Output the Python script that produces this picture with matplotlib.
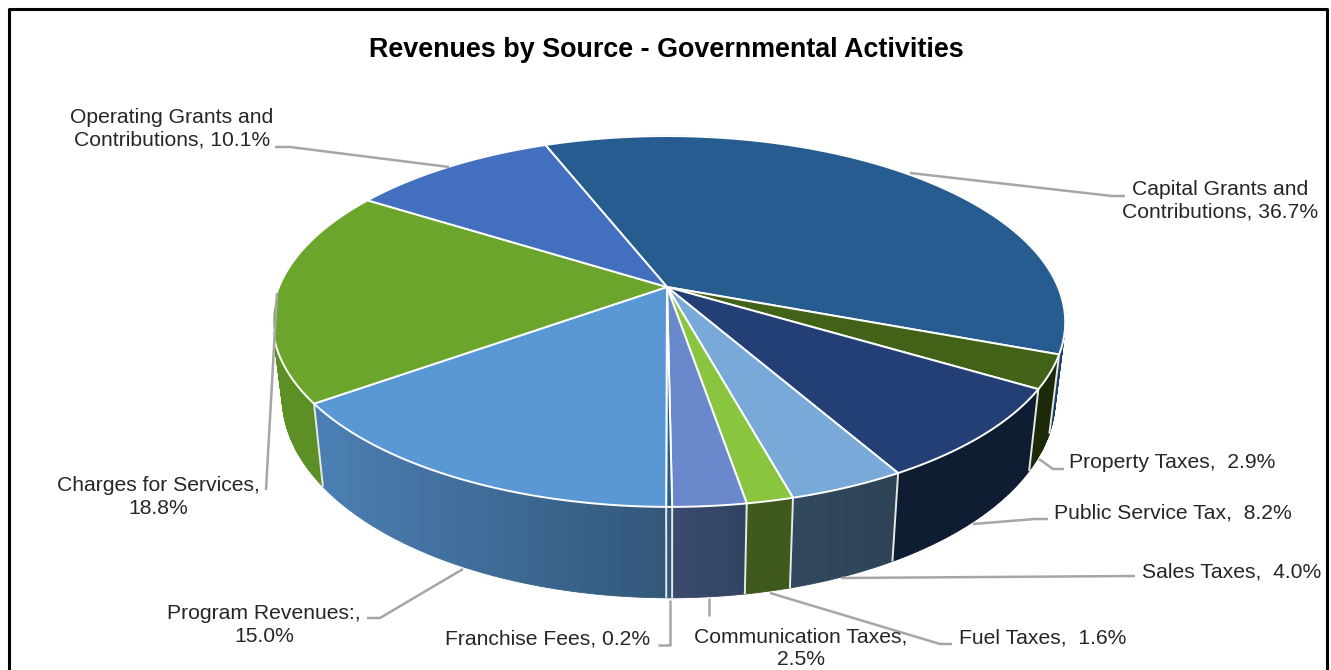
"""
Revenues by Source - Governmental Activities (3D style pie)
- circle is projected with a simple perspective so the hub sits above the ellipse center
"""
import numpy as np
import matplotlib
matplotlib.use("Agg")
import matplotlib.pyplot as plt
from matplotlib.colors import to_rgb
from matplotlib.patches import Polygon

plt.rcParams["font.family"] = ["Liberation Sans", "DejaVu Sans"]

# data, clockwise from the start angle
names = ["Capital Grants and\nContributions", "Property Taxes", "Public Service Tax", "Sales Taxes",
         "Fuel Taxes", "Communication Taxes", "Franchise Fees", "Program Revenues:",
         "Charges for Services", "Operating Grants and\nContributions"]
values = [36.7, 2.9, 8.2, 4.0, 1.6, 2.5, 0.2, 15.0, 18.8, 10.1]
seps = [", ", ",  ", ",  ", ",  ", ",  ", ",\n", ", ", ",\n", ",\n", ", "]

# styles
top_colors = ["#265c90", "#426317", "#233f75", "#78a9d8", "#8ac53f", "#6a89cc", "#265c90", "#5a98d5", "#6ca52b", "#4270bf"]
wall_left = ["#1b4068", "#1c2a08", "#0f1d33", "#33495f", "#3f5a1c", "#3b4a70", "#33587a", "#4c80b5", "#5c9024", "#2c4f86"]
wall_right = ["#1b4068", "#1c2a08", "#0f1d33", "#2e4356", "#3f5a1c", "#324462", "#33587a", "#33587a", "#5c9024", "#2c4f86"]
label_pos = [(1220, 201, "center"), (1069, 463, "left"), (1054, 513, "left"), (1142, 572, "left"),
             (959, 638, "left"), (801, 648, "center"), (445, 639, "left"), (264, 625, "center"),
             (158, 497, "center"), (172, 129, "center")]
leaders = [[(910, 173), (1112, 196), (1125, 196)], [(1039, 459), (1053, 469), (1064, 469)],
           [(973, 524), (1035, 519), (1048, 519)], [(841, 578), (1135, 576)],
           [(770, 593), (940, 644), (952, 644)], [(709, 598), (709, 616)],
           [(670, 600), (670, 645), (658, 645)], [(463, 569), (380, 618), (367, 618)],
           [(277, 293), (266, 490)], [(449, 167), (290, 147), (275, 147)]]

HUB_X, HUB_Y = 667, 287
A, B, K = 389.5, 179, 0.186  # perspective circle
DEPTH, SHRINK = 74, 0.975
START = -21.5
SKEW = 1.5  # front of the rim sits a bit right of the back


def project(deg, low=False):
    t = np.radians(deg)
    u, v = np.sin(t), np.cos(t)
    w = 1 + K * v
    x = A * u / w * (SHRINK if low else 1) + SKEW * (1 - v)
    y = -B * v / w + (DEPTH / w if low else 0)
    return HUB_X + x, HUB_Y + y


fig = plt.figure(figsize=(13.31, 6.70), dpi=100)
ax = fig.add_axes([0, 0, 1, 1])

total = sum(values)
edges = START + np.cumsum([0] + values) / total * 360

# side wall first, top covers the back part. Gradient runs left to right on screen
for i in range(len(values)):
    p = np.linspace(edges[i], edges[i + 1], max(int(edges[i + 1] - edges[i]) * 2, 3))
    xt, yt = project(p)
    xb, yb = project(p, low=True)
    xs, ys = np.r_[xt, xb[::-1]], np.r_[yt, yb[::-1]]
    c0, c1 = np.array(to_rgb(wall_left[i])), np.array(to_rgb(wall_right[i]))
    # quads underneath give the silhouette and smooth edges, seams get hidden by the image
    frac = (xb - xs.min()) / max(xs.max() - xs.min(), 1)
    for j in range(len(p) - 1):
        col = c0 + (c1 - c0) * (frac[j] + frac[j + 1]) / 2
        ax.fill([xt[j], xt[j + 1], xb[j + 1], xb[j]], [yt[j], yt[j + 1], yb[j + 1], yb[j]],
                color=col, lw=0.6, zorder=1.9)
    grad = np.linspace(c0, c1, 256)[None, :, :]
    im = ax.imshow(grad, extent=(xs.min(), xs.max(), ys.max(), ys.min()), aspect="auto",
                   interpolation="bilinear", zorder=2)
    inner = np.c_[np.r_[xt, xb[::-1]], np.r_[yt + 1, yb[::-1] - 1]]
    im.set_clip_path(Polygon(inner, transform=ax.transData))

ax.set_xlim(0, 1331)
ax.set_ylim(670, 0)
ax.axis("off")

# white lines down the wall, front side only
for e in edges:
    t = np.radians(e)
    if np.cos(t) < -0.05 or 80 < (e % 360) < 110:
        x0, y0 = project(e)
        x1, y1 = project(e, low=True)
        ax.plot([x0, x1], [y0, y1], color="#e8e8e8", lw=1.4, zorder=3, solid_capstyle="butt")

# top face
for i in range(len(values)):
    p = np.linspace(edges[i], edges[i + 1], max(int(edges[i + 1] - edges[i]) * 2, 2))
    x, y = project(p)
    ax.fill(np.r_[HUB_X, x], np.r_[HUB_Y, y], facecolor=top_colors[i], edgecolor="white", lw=1.4,
            joinstyle="round", zorder=4)

for pts in leaders:
    xs, ys = zip(*pts)
    ax.plot(xs, ys, color="#a6a6a6", lw=1.8, zorder=5, solid_capstyle="butt")

for name, val, sep, (x, y, ha) in zip(names, values, seps, label_pos):
    ax.text(x, y, f"{name}{sep}{val:.1f}%", ha=ha, va="center", fontsize=15.2, color="#262626",
            linespacing=1.22, zorder=6)

ax.text(666, 50, "Revenues by Source - Governmental Activities", ha="center", va="center",
        fontsize=19.4, fontweight="bold", color="black", zorder=6)

# chart border, bottom edge is cropped off
ax.plot([9, 9, 1327, 1327], [670, 8.5, 8.5, 670], color="black", lw=2.2, zorder=7)

fig.savefig("out.png", dpi=100)
